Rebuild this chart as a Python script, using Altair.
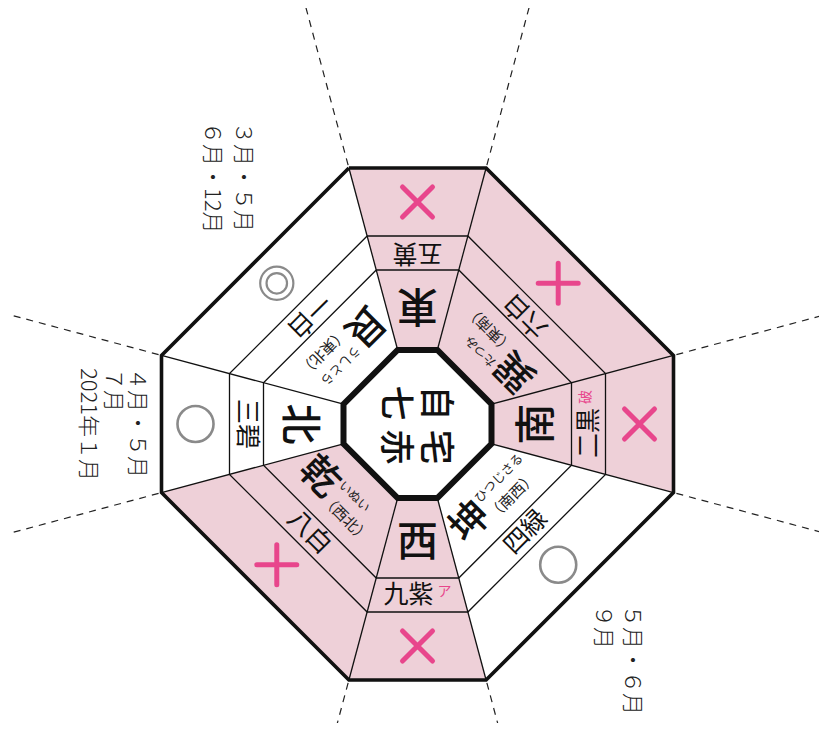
import math
import altair as alt

# ---------------- data ----------------
directions = ["東", "巽", "南", "坤", "西", "乾", "北", "艮"]
direction_angles = [-90, -45, 0, 45, 90, 135, 180, 225]
readings = ["", "たつみ", "", "ひつじさる", "", "いぬい", "", "うしとら"]
notes = ["", "（東南）", "", "（南西）", "", "（西北）", "", "（東北）"]
stars = ["五黄", "六白", "二黒", "四緑", "九紫", "八白", "三碧", "一白"]
star_tags = ["", "", "破", "", "ア", "", "", ""]
shaded = [1, 1, 1, 0, 1, 1, 0, 0]
symbols = ["x", "+", "x", "o", "x", "+", "o", "oo"]
home = ["自宅", "七赤"]
month_labels = [
    ["３月・５月", "６月・12月"],
    ["４月・５月", "７月", "2021年１月"],
    ["５月・６月", "９月"],
]

# ---------------- layout ----------------
W, H = 811, 715
M = 8
CX, CY = 417.5 - M, 424 - M
A_IN, A_1, A_2, A_OUT = 74, 154, 188, 256
VERTS = [-105, -75, -15, 15, 75, 105, 165, 195]
COS15 = math.cos(math.radians(15))
PINK = "#eed0d8"
MAGENTA = "#e8468c"
GRAY = "#8a8a8a"
FONT = "Noto Sans CJK JP"
month_pos = [([243, 212], 122), ([137, 113, 88], 368), ([632, 603], 605)]


def P(r, deg):
    a = math.radians(deg)
    return [CX + r * math.cos(a), CY + r * math.sin(a)]


def octagon(ap):
    r = ap / COS15
    pts = [P(r, a) for a in VERTS]
    return pts + [pts[0]]


def feat(geom_type, coords):
    return {"type": "Feature", "properties": {},
            "geometry": {"type": geom_type, "coordinates": coords}}


def frame(i, t, r):
    phi = direction_angles[i]
    th = phi - 90
    ux, uy = math.cos(math.radians(th)), math.sin(math.radians(th))
    ox, oy = math.cos(math.radians(phi)), math.sin(math.radians(phi))
    return CX + t * ux + r * ox, CY + t * uy + r * oy, th % 360


PROJ = dict(type="identity", scale=1, translate=[0, 0])

# sector fills
r_out = A_OUT / COS15
pink_feats = []
for i, d in enumerate(direction_angles):
    if not shaded[i]:
        continue
    half = 15 if i % 2 == 0 else 30
    c = [CX, CY]
    pink_feats.append(feat("Polygon", [[c, P(r_out, d - half), P(r_out, d + half), c]]))

thin_feats = [feat("LineString", octagon(A_1)), feat("LineString", octagon(A_2))]
r_in = A_IN / COS15
for a in VERTS:
    thin_feats.append(feat("LineString", [P(r_in, a), P(r_out, a)]))
dash_feats = [feat("LineString", [P(r_out + 3, a), P(560, a)]) for a in VERTS]

fill_layer = alt.Chart(alt.Data(values=pink_feats)).mark_geoshape(
    fill=PINK, stroke=None, strokeWidth=0).project(**PROJ)
thin_layer = alt.Chart(alt.Data(values=thin_feats)).mark_geoshape(
    filled=False, stroke="#111", strokeWidth=1.3).project(**PROJ)
dash_layer = alt.Chart(alt.Data(values=dash_feats)).mark_geoshape(
    filled=False, stroke="#222", strokeWidth=1.2, strokeDash=[7, 6]).project(**PROJ)
outer_layer = alt.Chart(alt.Data(values=[feat("LineString", octagon(A_OUT))])).mark_geoshape(
    filled=False, stroke="#111", strokeWidth=3.6, strokeJoin="miter").project(**PROJ)
inner_layer = alt.Chart(alt.Data(values=[feat("Polygon", [octagon(A_IN)])])).mark_geoshape(
    fill="white", stroke="#111", strokeWidth=6, strokeJoin="miter").project(**PROJ)

# texts
center_big, center_norm, left_norm, months = [], [], [], []
for i in range(8):
    if i % 2 == 0:
        x, y, th = frame(i, 0, 120)
        center_big.append(dict(x=x, y=y, t=directions[i], a=th, s=41, c="#111"))
        st = -9 if star_tags[i] else 0
        x, y, th = frame(i, st, 171)
        center_norm.append(dict(x=x, y=y, t=stars[i], a=th, s=25, c="#111"))
        if star_tags[i]:
            x, y, th = frame(i, 27, 168)
            center_norm.append(dict(x=x, y=y, t=star_tags[i], a=th, s=14, c=MAGENTA))
    else:
        x, y, th = frame(i, -32, 107)
        center_big.append(dict(x=x, y=y, t=directions[i], a=th, s=39, c="#111"))
        x, y, th = frame(i, -12, 96)
        left_norm.append(dict(x=x, y=y, t=readings[i], a=th, s=12.5, c="#222"))
        x, y, th = frame(i, -14, 118)
        left_norm.append(dict(x=x, y=y, t=notes[i], a=th, s=15, c="#222"))
        x, y, th = frame(i, 0, 153)
        center_norm.append(dict(x=x, y=y, t=stars[i], a=th, s=25, c="#111"))

# center text (each line is a column rotated 90deg)
for k, line in enumerate(home):
    xcol = 435 - 40 * k - M
    for j, ch in enumerate(line):
        center_big.append(dict(x=xcol, y=403 + 44 * j - M, t=ch, a=90, s=35, c="#111"))

for grp, (xs, ytop) in zip(month_labels, month_pos):
    for line, xc in zip(grp, xs):
        months.append(dict(x=xc - M, y=ytop - M, t=line, a=90, s=22, c="#222"))


def text_layer(recs, align, weight):
    return alt.Chart(alt.Data(values=recs)).mark_text(
        align=align, baseline="middle", font=FONT, fontWeight=weight
    ).encode(
        longitude="x:Q", latitude="y:Q", text="t:N",
        angle=alt.Angle("a:Q", scale=None),
        size=alt.Size("s:Q", scale=None),
        color=alt.Color("c:N", scale=None),
    ).project(**PROJ)


# symbols
xs_, ps_, os_, oos_ = [], [], [], []
for i, s in enumerate(symbols):
    r = 222 if i % 2 == 0 else 199
    x, y, _ = frame(i, 0, r)
    rec = dict(x=x, y=y)
    {"x": xs_, "+": ps_, "o": os_, "oo": oos_}[s].append(rec)


def sym_layer(recs, shape, size, color, sw):
    return alt.Chart(alt.Data(values=recs)).mark_point(
        shape=shape, size=size, filled=False, stroke=color, strokeWidth=sw,
        strokeCap="round", opacity=1
    ).encode(longitude="x:Q", latitude="y:Q").project(**PROJ)


layers = [
    fill_layer, thin_layer, dash_layer, outer_layer, inner_layer,
    text_layer(center_big, "center", 500),
    text_layer(center_norm, "center", 400),
    text_layer(left_norm, "left", 400),
    text_layer(months, "left", 300),
    sym_layer(xs_, "M-1,-1L1,1M-1,1L1,-1", 900, MAGENTA, 5),
    sym_layer(ps_, "M-1,0L1,0M0,-1L0,1", 1600, MAGENTA, 5),
    sym_layer(os_, "circle", 1300, GRAY, 2.6),
    sym_layer(oos_, "circle", 1100, GRAY, 2.2),
    sym_layer(oos_, "circle", 420, GRAY, 2.2),
]

chart = alt.layer(*layers).properties(
    width=W, height=H, padding=0, autosize=alt.AutoSizeParams(type="none")
).configure_view(stroke=None)

chart.save("out.html", embed_options={"renderer": "svg", "actions": False})
